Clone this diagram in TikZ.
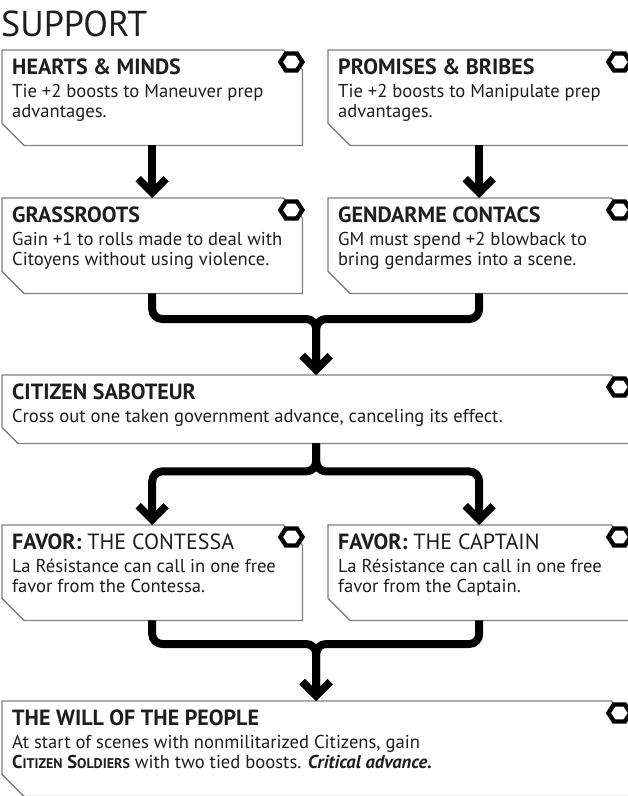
\documentclass[tikz,border=0pt]{standalone}
\usepackage{fontspec}
\setmainfont{PT Sans}
\usepackage{tikz}
\usetikzlibrary{arrows.meta, positioning, calc}
\definecolor{FrameGray}{RGB}{128, 128, 128}
\definecolor{InkText}{RGB}{30, 30, 32}

\tikzset{
  card/.style={draw=none, inner sep=0pt, anchor=north west, minimum height=95pt},
  halfcard/.style={card, minimum width=300pt},
  rightcard/.style={card, minimum width=302pt},
  fullcard/.style={card, minimum width=628pt},
  cardtext/.style={anchor=north west, inner sep=0pt, align=left, text=InkText,
                   font=\fontsize{18.6}{20}\selectfont},
  frame/.style={draw=FrameGray, line width=1.3pt, fill=white},
  hexmark/.style={draw=black, line width=4.4pt, fill=white, line join=miter},
  link/.style={draw=black, line width=8pt, rounded corners=10pt,
               -{Straight Barb[length=14pt, width=28pt, line width=7.5pt, line cap=butt, line join=miter]}},
}
\newcommand{\cardtitle}[1]{{\fontsize{22}{24}\selectfont\bfseries #1}}
\newcommand{\favortitle}[1]{{\fontsize{22}{24}\selectfont\textbf{FAVOR:} #1}}
\newcommand{\fakesc}[2]{#1{\fontsize{14}{20}\selectfont #2}}
% card outline with cut corners and the hexagon mark
\newcommand{\cardframe}[2][22]{%
  \draw[frame] (#2.north west) -- ($(#2.north east)+(-19,0)$) -- ($(#2.north east)+(0,-20)$)
    -- (#2.south east) -- ($(#2.south west)+(#1,0)$) -- ($(#2.south west)+(0,#1)$) -- cycle;
  \draw[hexmark] ($(#2.north east)+(-11,-12)$) +(-11,0) -- +(-5.5,8.5) -- +(5.5,8.5) -- +(11,0)
    -- +(5.5,-8.5) -- +(-5.5,-8.5) -- cycle;
}

\begin{document}
\begin{tikzpicture}[x=1pt, y=1pt]
  \useasboundingbox (0,0) rectangle (628,-796);

  \node[anchor=base west, inner sep=0pt, text=InkText, font=\fontsize{36}{38}\selectfont] (support) at (1,-36) {SUPPORT};

  \node[halfcard] (hearts) at (2,-50) {};
  \node[rightcard] (promises) at (328,-50) {};
  \node[halfcard] (grassroots) at (2,-198) {};
  \node[rightcard] (gendarme) at (328,-198) {};
  \node[fullcard, minimum height=68pt] (saboteur) at (2,-375) {};
  \node[halfcard] (contessa) at (2,-525) {};
  \node[rightcard] (captain) at (328,-525) {};
  \node[fullcard] (will) at (2,-701) {};

  \cardframe{hearts}
  \cardframe{promises}
  \cardframe{grassroots}
  \cardframe{gendarme}
  \cardframe[16]{saboteur}
  \cardframe{contessa}
  \cardframe{captain}
  \cardframe{will}

  \node[cardtext] (hearts-text) at ($(hearts.north west)+(10,-9)$)
    {\cardtitle{HEARTS \& MINDS}\\[3pt] Tie +2 boosts to Maneuver prep\\ advantages.};
  \node[cardtext] (promises-text) at ($(promises.north west)+(10,-9)$)
    {\cardtitle{PROMISES \& BRIBES}\\[3pt] Tie +2 boosts to Manipulate prep\\ advantages.};
  \node[cardtext] (grassroots-text) at ($(grassroots.north west)+(10,-9)$)
    {\cardtitle{GRASSROOTS}\\[3pt] Gain +1 to rolls made to deal with\\ Citoyens without using violence.};
  \node[cardtext] (gendarme-text) at ($(gendarme.north west)+(10,-9)$)
    {\cardtitle{GENDARME CONTACS}\\[3pt] GM must spend +2 blowback to\\ bring gendarmes into a scene.};
  \node[cardtext] (saboteur-text) at ($(saboteur.north west)+(10,-9)$)
    {\cardtitle{CITIZEN SABOTEUR}\\[3pt] Cross out one taken government advance, canceling its effect.};
  \node[cardtext] (contessa-text) at ($(contessa.north west)+(10,-9)$)
    {\favortitle{THE CONTESSA}\\[3pt] La Résistance can call in one free\\ favor from the Contessa.};
  \node[cardtext] (captain-text) at ($(captain.north west)+(10,-9)$)
    {\favortitle{THE CAPTAIN}\\[3pt] La Résistance can call in one free\\ favor from the Captain.};
  \node[cardtext] (will-text) at ($(will.north west)+(10,-9)$)
    {\cardtitle{THE WILL OF THE PEOPLE}\\[3pt] At start of scenes with nonmilitarized Citizens, gain\\
     \textbf{\fakesc{C}{ITIZEN} \fakesc{S}{OLDIERS}} with two tied boosts. \textbf{\textit{Critical advance.}}};

  \coordinate (join1) at ($(saboteur.north)+(0,56)$);
  \coordinate (fork1) at ($(saboteur.south)+(0,-28)$);
  \coordinate (join2) at ($(will.north)+(0,57)$);

  \draw[link] (hearts.south) -- (grassroots.north);
  \draw[link] (promises.south) -- (gendarme.north);
  \draw[link] (grassroots.south) |- (join1) -- (saboteur.north);
  \draw[link] (gendarme.south) |- (join1) -- (saboteur.north);
  \draw[link] (saboteur.south) -- (fork1) -| (contessa.north);
  \draw[link] (saboteur.south) -- (fork1) -| (captain.north);
  \draw[link] (contessa.south) |- (join2) -- (will.north);
  \draw[link] (captain.south) |- (join2) -- (will.north);
\end{tikzpicture}
\end{document}
